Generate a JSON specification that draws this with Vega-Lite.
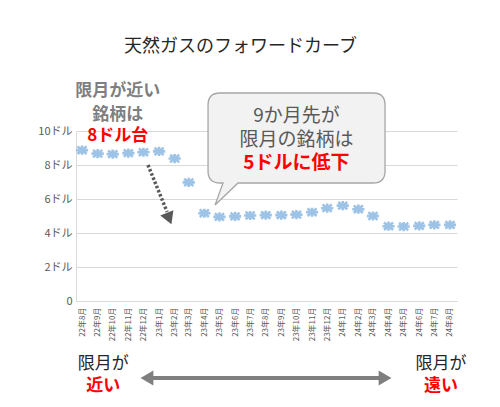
{
  "$schema": "https://vega.github.io/schema/vega-lite/v6.json",
  "width": 381,
  "height": 170,
  "autosize": {"type": "none"},
  "padding": {"left": 76, "top": 131, "right": 43, "bottom": 106},
  "background": "white",
  "config": {
    "view": {"stroke": null},
    "font": "Noto Sans CJK JP"
  },
  "title": {
    "text": "天然ガスのフォワードカーブ",
    "fontSize": 18,
    "fontWeight": "normal",
    "color": "#262626",
    "dx": -26,
    "offset": 26,
    "font": "Noto Sans CJK JP"
  },
  "encoding": {
    "x": {
      "field": "date",
      "type": "temporal",
      "scale": {
        "type": "utc",
        "domain": [
          {"year": 2022, "month": 7, "date": 20, "utc": true},
          {"year": 2024, "month": 8, "date": 15, "utc": true}
        ],
        "nice": false
      },
      "axis": {
        "title": null,
        "labelExpr": "utcFormat(datum.value, '%y年%-m月')",
        "tickCount": {"interval": "month", "step": 1},
        "labelAngle": 270,
        "labelFontSize": 8,
        "labelColor": "#595959",
        "labelPadding": 6,
        "labelOverlap": false,
        "labelFlush": false,
        "labelBound": false,
        "ticks": false,
        "grid": false,
        "domainColor": "#d9d9d9",
        "domainWidth": 1
      }
    },
    "y": {
      "field": "value",
      "type": "quantitative",
      "scale": {"domain": [0, 10], "nice": false, "zero": false},
      "axis": {
        "title": null,
        "values": [0, 2, 4, 6, 8, 10],
        "labelExpr": "datum.value == 0 ? '0' : datum.value + 'ドル'",
        "labelFontSize": 11,
        "labelColor": "#595959",
        "labelPadding": 4,
        "labelOverlap": false,
        "labelFlush": false,
        "labelBound": false,
        "ticks": false,
        "grid": true,
        "gridColor": "#d9d9d9",
        "gridWidth": 1,
        "domainColor": "#d9d9d9",
        "domainWidth": 1
      }
    }
  },
  "layer": [
    {
      "data": {
        "values": [
          {"date": "2022-08-01", "value": 8.87},
          {"date": "2022-09-01", "value": 8.67},
          {"date": "2022-10-01", "value": 8.64},
          {"date": "2022-11-01", "value": 8.70},
          {"date": "2022-12-01", "value": 8.75},
          {"date": "2023-01-01", "value": 8.80},
          {"date": "2023-02-01", "value": 8.38},
          {"date": "2023-03-01", "value": 6.98},
          {"date": "2023-04-01", "value": 5.16},
          {"date": "2023-05-01", "value": 4.95},
          {"date": "2023-06-01", "value": 4.98},
          {"date": "2023-07-01", "value": 5.03},
          {"date": "2023-08-01", "value": 5.05},
          {"date": "2023-09-01", "value": 5.05},
          {"date": "2023-10-01", "value": 5.08},
          {"date": "2023-11-01", "value": 5.22},
          {"date": "2023-12-01", "value": 5.46},
          {"date": "2024-01-01", "value": 5.61},
          {"date": "2024-02-01", "value": 5.40},
          {"date": "2024-03-01", "value": 5.00},
          {"date": "2024-04-01", "value": 4.40},
          {"date": "2024-05-01", "value": 4.38},
          {"date": "2024-06-01", "value": 4.42},
          {"date": "2024-07-01", "value": 4.48},
          {"date": "2024-08-01", "value": 4.48}
        ]
      },
      "mark": {
        "type": "point",
        "shape": "M-1,0L1,0M0,-0.75L0,0.75M-0.75,-0.6L0.75,0.6M-0.75,0.6L0.75,-0.6",
        "filled": false,
        "stroke": "#9dc3e6",
        "strokeWidth": 2.6,
        "size": 150,
        "opacity": 1
      }
    },
    {
      "data": {"values": [{"date": "2022-12-10", "value": 8.0}, {"date": "2023-01-17", "value": 5.24}]},
      "mark": {"type": "line", "color": "#595959", "strokeWidth": 3.5, "strokeDash": [2.5, 2]}
    },
    {
      "data": {"values": [{"date": "2023-01-21", "value": 4.85}]},
      "mark": {"type": "point", "shape": "triangle-down", "filled": true, "color": "#595959", "size": 200, "angle": 338, "opacity": 1}
    },
    {
      "data": {"values": [{"date": "2023-10-01", "value": 8.0}]},
      "mark": {
        "type": "point",
        "shape": "M-0.764,-0.72L0.766,-0.72Q0.886,-0.72,0.886,-0.6L0.886,0.06Q0.886,0.18,0.766,0.18L-0.584,0.18L-0.814,0.4L-0.734,0.18L-0.764,0.18Q-0.884,0.18,-0.884,0.06L-0.884,-0.6Q-0.884,-0.72,-0.764,-0.72Z",
        "filled": true,
        "fill": "#f2f2f2",
        "stroke": "#a6a6a6",
        "strokeWidth": 1.3,
        "size": 40000,
        "opacity": 1
      }
    },
    {
      "data": {"values": [{"label": "限月が近い", "date": "2022-10-11", "value": 12.35}, {"label": "銘柄は", "date": "2022-10-11", "value": 10.95}]},
      "mark": {"type": "text", "fontSize": 17, "fontWeight": "bold", "color": "#7f7f7f", "baseline": "middle", "align": "center"},
      "encoding": {"text": {"field": "label"}}
    },
    {
      "data": {"values": [{"label": "8ドル台", "date": "2022-10-11", "value": 9.7}]},
      "mark": {"type": "text", "fontSize": 17, "fontWeight": "bold", "color": "#ff0000", "baseline": "middle", "align": "center"},
      "encoding": {"text": {"field": "label"}}
    },
    {
      "data": {"values": [{"label": "9か月先が", "date": "2023-10-01", "value": 10.88}, {"label": "限月の銘柄は", "date": "2023-10-01", "value": 9.47}]},
      "mark": {"type": "text", "fontSize": 19, "fontWeight": "normal", "color": "#595959", "baseline": "middle", "align": "center"},
      "encoding": {"text": {"field": "label"}}
    },
    {
      "data": {"values": [{"label": "5ドルに低下", "date": "2023-10-01", "value": 8.12}]},
      "mark": {"type": "text", "fontSize": 19, "fontWeight": "bold", "color": "#ff0000", "baseline": "middle", "align": "center"},
      "encoding": {"text": {"field": "label"}}
    },
    {
      "data": {"values": [{"label": "限月が", "date": "2022-09-12", "value": -3.72}, {"label": "限月が", "date": "2024-07-14", "value": -3.72}]},
      "mark": {"type": "text", "fontSize": 17, "fontWeight": "normal", "color": "#262626", "baseline": "middle", "align": "center"},
      "encoding": {"text": {"field": "label"}}
    },
    {
      "data": {"values": [{"label": "近い", "date": "2022-09-12", "value": -4.98}, {"label": "遠い", "date": "2024-07-14", "value": -4.98}]},
      "mark": {"type": "text", "fontSize": 17, "fontWeight": "bold", "color": "#ff0000", "baseline": "middle", "align": "center"},
      "encoding": {"text": {"field": "label"}}
    },
    {
      "data": {"values": [{"date": "2022-12-14", "value": -4.53}, {"date": "2024-03-19", "value": -4.53}]},
      "mark": {"type": "line", "color": "#7f7f7f", "strokeWidth": 4}
    },
    {
      "data": {"values": [{"date": "2022-12-08", "value": -4.53}]},
      "mark": {"type": "point", "shape": "triangle-left", "filled": true, "color": "#7f7f7f", "size": 220, "opacity": 1}
    },
    {
      "data": {"values": [{"date": "2024-03-25", "value": -4.53}]},
      "mark": {"type": "point", "shape": "triangle-right", "filled": true, "color": "#7f7f7f", "size": 220, "opacity": 1}
    }
  ]
}
